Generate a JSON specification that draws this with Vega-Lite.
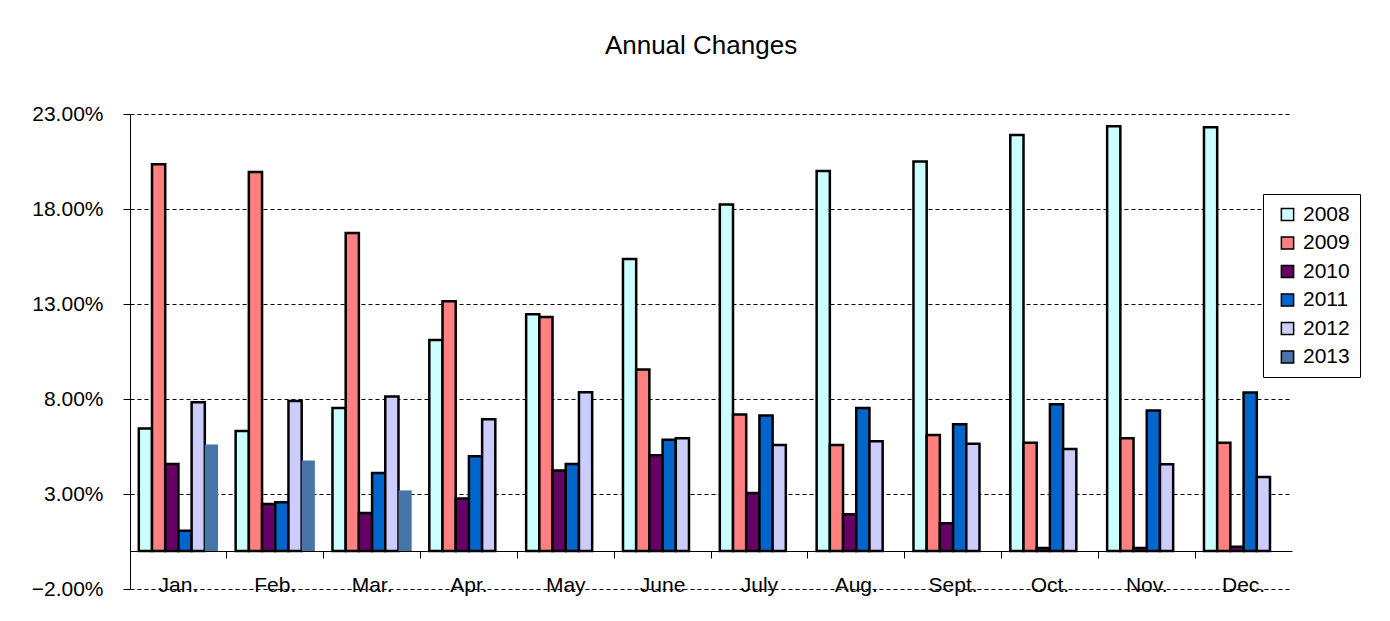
{
  "$schema": "https://vega.github.io/schema/vega-lite/v6.json",
  "autosize": "none",
  "padding": {"left": 130, "top": 114, "right": 98, "bottom": 32},
  "width": 1162,
  "height": 475,
  "background": "white",
  "title": {
    "text": "Annual Changes",
    "font": "Liberation Sans",
    "fontSize": 26,
    "fontWeight": "normal",
    "color": "black",
    "anchor": "middle",
    "frame": "group",
    "baseline": "alphabetic",
    "offset": 23,
    "dx": -10
  },
  "config": {
    "view": {"stroke": null},
    "font": "Liberation Sans"
  },
  "data": {
    "values": [
      {"month": "Jan.", "year": "2008", "value": 6.45},
      {"month": "Jan.", "year": "2009", "value": 20.36},
      {"month": "Jan.", "year": "2010", "value": 4.58},
      {"month": "Jan.", "year": "2011", "value": 1.07},
      {"month": "Jan.", "year": "2012", "value": 7.83},
      {"month": "Jan.", "year": "2013", "value": 5.61},
      {"month": "Feb.", "year": "2008", "value": 6.31},
      {"month": "Feb.", "year": "2009", "value": 19.95},
      {"month": "Feb.", "year": "2010", "value": 2.48},
      {"month": "Feb.", "year": "2011", "value": 2.57},
      {"month": "Feb.", "year": "2012", "value": 7.9},
      {"month": "Feb.", "year": "2013", "value": 4.76},
      {"month": "Mar.", "year": "2008", "value": 7.52},
      {"month": "Mar.", "year": "2009", "value": 16.74},
      {"month": "Mar.", "year": "2010", "value": 2.0},
      {"month": "Mar.", "year": "2011", "value": 4.1},
      {"month": "Mar.", "year": "2012", "value": 8.13},
      {"month": "Mar.", "year": "2013", "value": 3.19},
      {"month": "Apr.", "year": "2008", "value": 11.1},
      {"month": "Apr.", "year": "2009", "value": 13.14},
      {"month": "Apr.", "year": "2010", "value": 2.76},
      {"month": "Apr.", "year": "2011", "value": 4.99},
      {"month": "Apr.", "year": "2012", "value": 6.93},
      {"month": "May", "year": "2008", "value": 12.46},
      {"month": "May", "year": "2009", "value": 12.32},
      {"month": "May", "year": "2010", "value": 4.24},
      {"month": "May", "year": "2011", "value": 4.58},
      {"month": "May", "year": "2012", "value": 8.36},
      {"month": "June", "year": "2008", "value": 15.37},
      {"month": "June", "year": "2009", "value": 9.55},
      {"month": "June", "year": "2010", "value": 5.04},
      {"month": "June", "year": "2011", "value": 5.85},
      {"month": "June", "year": "2012", "value": 5.94},
      {"month": "July", "year": "2008", "value": 18.24},
      {"month": "July", "year": "2009", "value": 7.18},
      {"month": "July", "year": "2010", "value": 3.05},
      {"month": "July", "year": "2011", "value": 7.13},
      {"month": "July", "year": "2012", "value": 5.58},
      {"month": "Aug.", "year": "2008", "value": 20.0},
      {"month": "Aug.", "year": "2009", "value": 5.58},
      {"month": "Aug.", "year": "2010", "value": 1.94},
      {"month": "Aug.", "year": "2011", "value": 7.52},
      {"month": "Aug.", "year": "2012", "value": 5.78},
      {"month": "Sept.", "year": "2008", "value": 20.5},
      {"month": "Sept.", "year": "2009", "value": 6.11},
      {"month": "Sept.", "year": "2010", "value": 1.46},
      {"month": "Sept.", "year": "2011", "value": 6.67},
      {"month": "Sept.", "year": "2012", "value": 5.65},
      {"month": "Oct.", "year": "2008", "value": 21.89},
      {"month": "Oct.", "year": "2009", "value": 5.7},
      {"month": "Oct.", "year": "2010", "value": 0.16},
      {"month": "Oct.", "year": "2011", "value": 7.72},
      {"month": "Oct.", "year": "2012", "value": 5.37},
      {"month": "Nov.", "year": "2008", "value": 22.35},
      {"month": "Nov.", "year": "2009", "value": 5.94},
      {"month": "Nov.", "year": "2010", "value": 0.16},
      {"month": "Nov.", "year": "2011", "value": 7.4},
      {"month": "Nov.", "year": "2012", "value": 4.56},
      {"month": "Dec.", "year": "2008", "value": 22.3},
      {"month": "Dec.", "year": "2009", "value": 5.7},
      {"month": "Dec.", "year": "2010", "value": 0.23},
      {"month": "Dec.", "year": "2011", "value": 8.34},
      {"month": "Dec.", "year": "2012", "value": 3.89}
    ]
  },
  "mark": {"type": "bar"},
  "encoding": {
    "x": {
      "field": "month",
      "type": "nominal",
      "sort": ["Jan.", "Feb.", "Mar.", "Apr.", "May", "June", "July", "Aug.", "Sept.", "Oct.", "Nov.", "Dec."],
      "scale": {"paddingInner": 0, "paddingOuter": 0},
      "axis": {
        "title": null,
        "orient": "bottom",
        "offset": -38,
        "bandPosition": 0,
        "domain": true,
        "domainColor": "black",
        "domainWidth": 1,
        "ticks": true,
        "tickColor": "black",
        "tickSize": 7,
        "tickWidth": 1,
        "labelAngle": 0,
        "labelPadding": 16,
        "labelFont": "Liberation Sans",
        "labelFontSize": 21,
        "labelColor": "black",
        "grid": false
      }
    },
    "xOffset": {
      "field": "year",
      "type": "nominal",
      "scale": {"domain": ["2008", "2009", "2010", "2011", "2012", "2013"], "paddingInner": 0, "paddingOuter": 0.667}
    },
    "y": {
      "field": "value",
      "type": "quantitative",
      "scale": {"domain": [-2, 23], "nice": false, "zero": false},
      "axis": {
        "title": null,
        "values": [-2, 3, 8, 13, 18, 23],
        "labelExpr": "format(datum.value, '.2f') + '%'",
        "grid": true,
        "gridColor": "black",
        "gridDash": [4, 3],
        "gridWidth": 1,
        "gridOpacity": 1,
        "domain": true,
        "domainColor": "black",
        "domainWidth": 1,
        "ticks": true,
        "tickColor": "black",
        "tickSize": 7,
        "labelPadding": 20,
        "labelFont": "Liberation Sans",
        "labelFontSize": 21,
        "labelColor": "black"
      }
    },
    "stroke": {
      "condition": {"test": "datum.year === '2013'", "value": null},
      "value": "black"
    },
    "strokeWidth": {"value": 2.5},
    "color": {
      "field": "year",
      "type": "nominal",
      "scale": {
        "domain": ["2008", "2009", "2010", "2011", "2012", "2013"],
        "range": ["#CCFFFF", "#FF8080", "#660066", "#0066CC", "#CCCCFF", "#4775A7"]
      },
      "legend": {
        "title": null,
        "orient": "none",
        "legendX": 1133,
        "legendY": 80,
        "symbolType": "square",
        "symbolSize": 150,
        "symbolOpacity": 1,
        "symbolOffset": 4,
        "labelFont": "Liberation Sans",
        "labelFontSize": 21,
        "labelColor": "black",
        "labelOffset": 5,
        "rowPadding": 6.5,
        "padding": 10,
        "strokeColor": "black",
        "fillColor": "white",
        "encode": {
          "symbols": {
            "update": {
              "stroke": {"value": "black"},
              "strokeWidth": {"signal": "datum.value === '2013' ? 0 : 2.5"}
            }
          }
        }
      }
    }
  }
}
